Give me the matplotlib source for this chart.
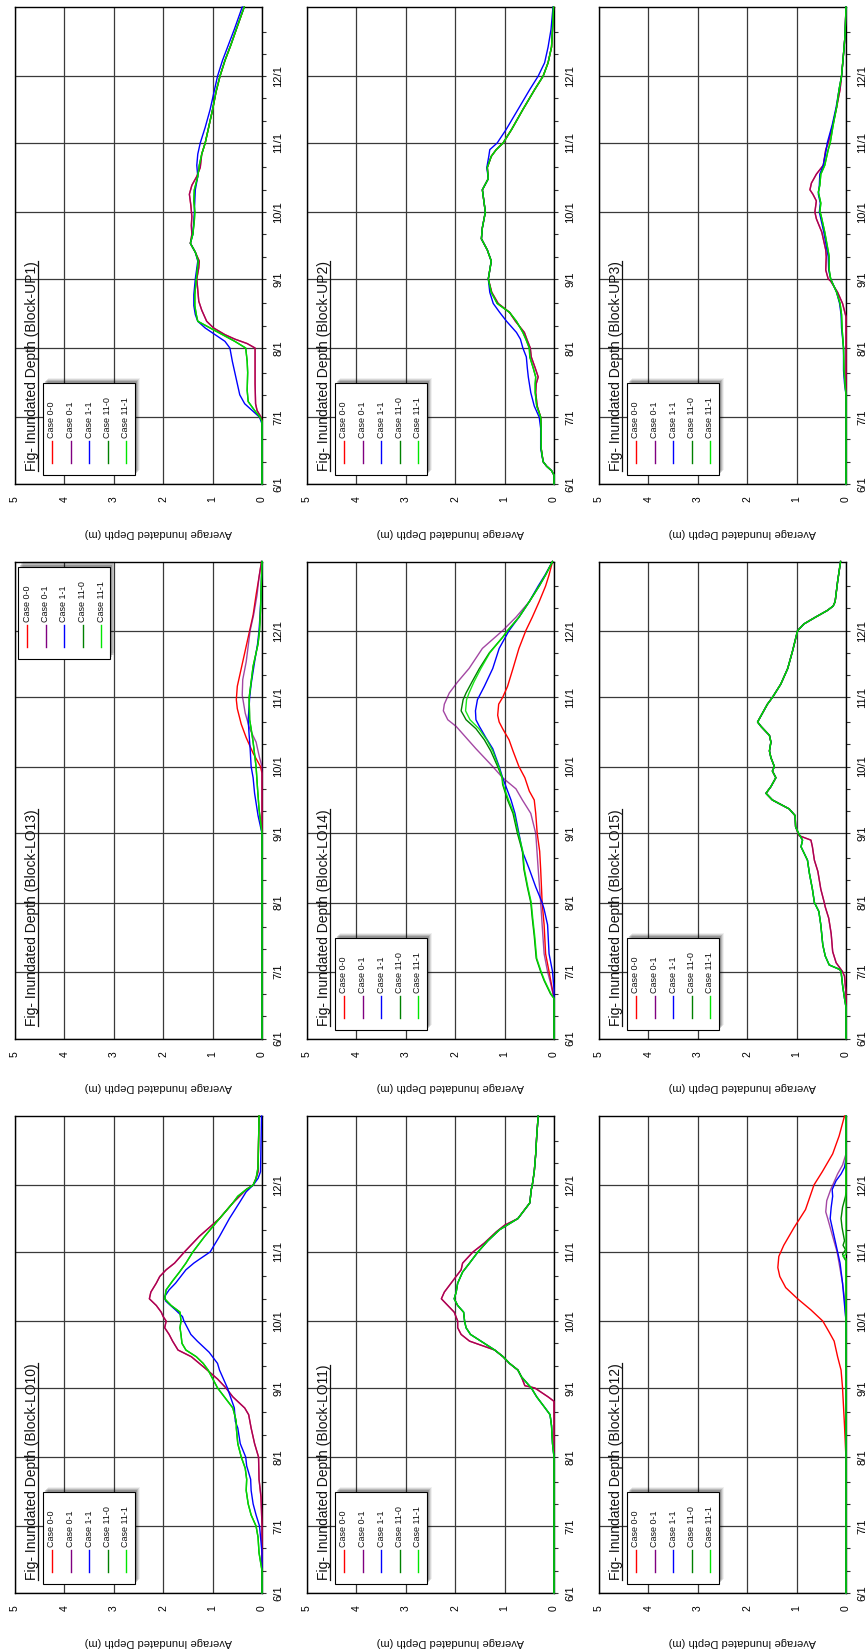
import numpy as np
import matplotlib
matplotlib.use("Agg")
import matplotlib.pyplot as plt
from matplotlib.patches import Rectangle
from matplotlib.lines import Line2D

plt.rcParams["font.family"] = ["Liberation Sans", "DejaVu Sans"]

# ---------------------------------------------------------------------------
# Axis definitions (time axis counted in days after 6/1)
# ---------------------------------------------------------------------------
MONTH_DAYS = [0, 30, 61, 92, 122, 153, 183]
MONTH_LABELS = ["6/1", "7/1", "8/1", "9/1", "10/1", "11/1", "12/1"]
DAY_MAX = 214
DEPTH_TICKS = [0, 1, 2, 3, 4, 5]
DEPTH_MAX = 5

CASES = ["Case 0-0", "Case 0-1", "Case 1-1", "Case 11-0", "Case 11-1"]
CASE_COLORS = ["#ff0000", "#800080", "#0000ff", "#008000", "#00e600"]

# ---------------------------------------------------------------------------
# Average inundated depth (m): (day after 6/1, depth)
# ---------------------------------------------------------------------------
UP1_CASE0 = [(0, 0), (28, 0), (30, 0.02), (33, 0.10), (36, 0.13), (45, 0.14), (61, 0.14),
             (63, 0.30), (65, 0.55), (67, 0.75), (70, 0.98), (73, 1.12), (76, 1.18), (78, 1.22),
             (82, 1.28), (87, 1.30), (92, 1.32), (97, 1.28), (100, 1.27), (104, 1.35), (108, 1.45),
             (112, 1.42), (116, 1.43), (120, 1.42), (125, 1.44), (130, 1.47), (134, 1.42),
             (138, 1.32), (142, 1.25), (148, 1.22), (153, 1.15), (160, 1.08), (168, 1.00),
             (176, 0.93), (183, 0.85), (190, 0.75), (197, 0.63), (204, 0.52), (214, 0.36)]
UP1_CASE11 = [(0, 0), (27, 0), (30, 0.05), (33, 0.20), (36, 0.35), (40, 0.45), (45, 0.50),
              (50, 0.55), (55, 0.60), (61, 0.65), (64, 0.75), (67, 0.95), (70, 1.15), (73, 1.30),
              (76, 1.35), (80, 1.38), (85, 1.38), (92, 1.35), (100, 1.30), (104, 1.35), (108, 1.45),
              (112, 1.40), (118, 1.38), (122, 1.37), (127, 1.36), (132, 1.35), (138, 1.30),
              (143, 1.32), (148, 1.30), (153, 1.25), (160, 1.15), (168, 1.05), (176, 0.97),
              (183, 0.90), (190, 0.80), (197, 0.68), (204, 0.56), (214, 0.40)]
UP1_CASE110 = [(0, 0), (28, 0), (30, 0.04), (33, 0.15), (37, 0.28), (42, 0.30), (50, 0.29),
               (55, 0.30), (61, 0.33), (64, 0.55), (67, 0.80), (70, 1.05), (73, 1.30), (76, 1.33),
               (80, 1.36), (85, 1.36), (92, 1.33), (100, 1.29), (104, 1.35), (108, 1.45), (112, 1.40),
               (118, 1.37), (122, 1.36), (127, 1.38), (132, 1.37), (138, 1.30), (143, 1.27),
               (148, 1.22), (153, 1.15), (160, 1.08), (168, 1.00), (176, 0.93), (183, 0.85),
               (190, 0.75), (197, 0.63), (204, 0.52), (214, 0.36)]

UP2_CASE0 = [(0, 0), (4, 0), (6, 0.05), (8, 0.15), (10, 0.22), (16, 0.26), (25, 0.26), (30, 0.27),
             (35, 0.34), (41, 0.37), (45, 0.36), (48, 0.32), (52, 0.38), (57, 0.46), (61, 0.48),
             (65, 0.55), (68, 0.60), (73, 0.78), (77, 0.90), (81, 1.13), (86, 1.26), (92, 1.33),
             (96, 1.30), (100, 1.27), (105, 1.35), (110, 1.47), (115, 1.45), (122, 1.39),
             (127, 1.42), (132, 1.45), (137, 1.33), (142, 1.35), (147, 1.27), (150, 1.17),
             (153, 1.03), (159, 0.86), (168, 0.63), (177, 0.39), (183, 0.22), (189, 0.12),
             (196, 0.05), (204, 0.03), (214, 0.01)]
UP2_CASE11 = [(0, 0), (4, 0), (6, 0.05), (8, 0.15), (10, 0.22), (16, 0.27), (25, 0.27), (30, 0.30),
              (35, 0.40), (41, 0.47), (48, 0.52), (52, 0.54), (57, 0.56), (61, 0.63), (65, 0.68),
              (68, 0.76), (73, 0.96), (77, 1.10), (81, 1.23), (86, 1.30), (92, 1.33), (96, 1.30),
              (100, 1.27), (105, 1.35), (110, 1.47), (115, 1.45), (122, 1.39), (127, 1.42),
              (132, 1.45), (137, 1.33), (142, 1.36), (147, 1.32), (150, 1.30), (153, 1.15),
              (159, 0.97), (168, 0.73), (177, 0.49), (183, 0.32), (189, 0.19), (196, 0.12),
              (204, 0.06), (214, 0.02)]
UP2_CASE110 = [(0, 0), (4, 0), (6, 0.05), (8, 0.15), (10, 0.22), (16, 0.26), (25, 0.26), (30, 0.27),
               (35, 0.35), (41, 0.38), (45, 0.38), (48, 0.37), (52, 0.42), (57, 0.49), (61, 0.50),
               (65, 0.57), (68, 0.63), (73, 0.76), (77, 0.90), (81, 1.15), (86, 1.27), (92, 1.33),
               (96, 1.30), (100, 1.27), (105, 1.35), (110, 1.47), (115, 1.45), (122, 1.39),
               (127, 1.42), (132, 1.45), (137, 1.33), (142, 1.35), (147, 1.27), (150, 1.17),
               (153, 1.03), (159, 0.86), (168, 0.63), (177, 0.39), (183, 0.22), (189, 0.12),
               (196, 0.05), (204, 0.03), (214, 0.01)]

UP3_CASE0 = [(0, 0), (75, 0), (81, 0.07), (86, 0.17), (91, 0.31), (92, 0.36), (96, 0.41),
             (102, 0.40), (105, 0.41), (113, 0.49), (119, 0.60), (122, 0.63), (127, 0.60),
             (130, 0.67), (132, 0.73), (135, 0.70), (139, 0.60), (143, 0.46), (150, 0.41),
             (153, 0.36), (161, 0.27), (169, 0.19), (177, 0.12), (183, 0.09), (193, 0.05),
             (201, 0.02), (214, 0.0)]
UP3_CASE11 = [(0, 0), (40, 0), (45, 0.03), (51, 0.05), (61, 0.05), (70, 0.09), (76, 0.10),
              (81, 0.13), (86, 0.19), (91, 0.29), (92, 0.31), (96, 0.35), (102, 0.36), (113, 0.45),
              (121, 0.53), (122, 0.54), (126, 0.52), (130, 0.56), (134, 0.54), (139, 0.53),
              (143, 0.46), (150, 0.40), (153, 0.38), (161, 0.28), (169, 0.20), (177, 0.14),
              (183, 0.09), (193, 0.05), (201, 0.02), (214, 0.0)]
UP3_CASE110 = [(0, 0), (40, 0), (45, 0.02), (51, 0.04), (61, 0.05), (70, 0.08), (76, 0.09),
               (81, 0.12), (86, 0.19), (91, 0.29), (92, 0.31), (96, 0.34), (102, 0.34), (113, 0.43),
               (121, 0.51), (122, 0.53), (126, 0.51), (131, 0.56), (134, 0.53), (139, 0.51),
               (143, 0.43), (150, 0.36), (153, 0.32), (161, 0.26), (169, 0.19), (177, 0.14),
               (183, 0.09), (193, 0.05), (201, 0.02), (214, 0.0)]

LO13_CASE00 = [(0, 0), (119, 0), (122, 0.03), (128, 0.18), (135, 0.32), (141, 0.42), (148, 0.50),
               (152, 0.52), (158, 0.50), (163, 0.45), (169, 0.39), (176, 0.32), (183, 0.25),
               (190, 0.18), (199, 0.12), (207, 0.06), (214, 0.01)]
LO13_CASE01 = [(0, 0), (122, 0), (126, 0.05), (133, 0.12), (139, 0.25), (146, 0.34), (154, 0.40),
               (161, 0.39), (169, 0.32), (176, 0.28), (183, 0.24), (190, 0.17), (199, 0.10),
               (207, 0.06), (214, 0.01)]
LO13_CASE11 = [(0, 0), (92, 0), (100, 0.08), (110, 0.15), (117, 0.18), (122, 0.22), (130, 0.24),
               (136, 0.26), (143, 0.28), (149, 0.26), (153, 0.25), (159, 0.22), (169, 0.15),
               (177, 0.09), (183, 0.06), (190, 0.04), (199, 0.02), (214, 0.0)]
LO13_CASE110 = [(0, 0), (92, 0), (103, 0.06), (112, 0.09), (122, 0.12), (133, 0.18), (139, 0.22),
                (143, 0.25), (153, 0.26), (160, 0.22), (167, 0.18), (177, 0.08), (183, 0.05),
                (192, 0.03), (214, 0.0)]

LO14_CASE00 = [(0, 0), (18, 0), (24, 0.05), (30, 0.10), (38, 0.17), (51, 0.20), (61, 0.24),
               (76, 0.27), (84, 0.29), (92, 0.34), (101, 0.37), (107, 0.40), (111, 0.50),
               (117, 0.59), (122, 0.71), (129, 0.83), (134, 0.91), (139, 1.04), (142, 1.11),
               (145, 1.14), (150, 1.12), (153, 1.04), (158, 0.94), (166, 0.83), (175, 0.71),
               (183, 0.57), (189, 0.44), (196, 0.30), (203, 0.17), (208, 0.10), (214, 0.03)]
LO14_CASE01 = [(0, 0), (18, 0), (24, 0.06), (30, 0.13), (38, 0.20), (51, 0.24), (61, 0.27),
               (76, 0.32), (89, 0.36), (92, 0.37), (101, 0.47), (107, 0.64), (112, 0.77),
               (117, 1.04), (122, 1.24), (130, 1.58), (135, 1.78), (140, 1.98), (143, 2.15),
               (147, 2.24), (150, 2.22), (155, 2.12), (160, 1.95), (166, 1.72), (175, 1.45),
               (183, 1.04), (189, 0.77), (196, 0.50), (203, 0.30), (208, 0.17), (214, 0.03)]
LO14_CASE11 = [(0, 0), (22, 0), (30, 0.03), (38, 0.10), (51, 0.13), (58, 0.20), (61, 0.24),
               (68, 0.37), (76, 0.50), (84, 0.64), (92, 0.71), (101, 0.79), (107, 0.87),
               (117, 1.04), (122, 1.11), (130, 1.24), (135, 1.38), (140, 1.51), (143, 1.58),
               (147, 1.59), (152, 1.55), (158, 1.41), (166, 1.24), (175, 1.11), (183, 0.91),
               (189, 0.71), (196, 0.50), (203, 0.32), (208, 0.18), (214, 0.03)]
LO14_CASE110 = [(0, 0), (18, 0), (20, 0.07), (26, 0.20), (30, 0.27), (36, 0.36), (46, 0.40),
                (54, 0.44), (61, 0.47), (68, 0.54), (76, 0.61), (84, 0.64), (92, 0.74),
                (101, 0.83), (107, 0.94), (114, 1.04), (117, 1.05), (122, 1.14), (129, 1.28),
                (134, 1.41), (139, 1.58), (143, 1.78), (147, 1.88), (152, 1.84), (155, 1.78),
                (160, 1.66), (166, 1.51), (173, 1.31), (180, 1.04), (183, 0.94), (189, 0.71),
                (196, 0.50), (203, 0.30), (208, 0.17), (214, 0.03)]
LO14_CASE111 = [(0, 0), (18, 0), (20, 0.06), (26, 0.19), (30, 0.26), (36, 0.35), (46, 0.39),
                (54, 0.43), (61, 0.46), (68, 0.53), (76, 0.60), (84, 0.63), (92, 0.72),
                (101, 0.81), (107, 0.92), (114, 1.03), (117, 1.05), (122, 1.12), (129, 1.24),
                (134, 1.36), (139, 1.52), (143, 1.70), (147, 1.79), (152, 1.77), (155, 1.72),
                (160, 1.62), (166, 1.48), (173, 1.30), (180, 1.04), (183, 0.94), (189, 0.71),
                (196, 0.50), (203, 0.30), (208, 0.17), (214, 0.03)]

LO15_CASE0 = [(0, 0), (20, 0), (28, 0.03), (30, 0.07), (34, 0.20), (39, 0.27), (47, 0.30),
              (54, 0.35), (59, 0.42), (61, 0.44), (67, 0.51), (75, 0.57), (80, 0.64), (86, 0.68),
              (89, 0.71), (91, 0.95), (92, 0.97), (95, 1.02), (100, 1.03), (103, 1.15),
              (107, 1.49), (110, 1.62), (113, 1.52), (117, 1.42), (120, 1.49), (122, 1.45),
              (126, 1.52), (129, 1.55), (133, 1.52), (136, 1.55), (140, 1.72), (142, 1.79),
              (146, 1.69), (150, 1.59), (153, 1.49), (159, 1.32), (166, 1.18), (174, 1.08),
              (183, 0.98), (186, 0.85), (189, 0.62), (192, 0.38), (194, 0.26), (196, 0.22),
              (205, 0.17), (214, 0.11)]
LO15_CASE1 = [(0, 0), (14, 0), (18, 0.03), (24, 0.07), (30, 0.10), (31, 0.13), (33, 0.34),
              (37, 0.42), (42, 0.47), (51, 0.51), (57, 0.55), (61, 0.64), (67, 0.68), (74, 0.74),
              (80, 0.78), (86, 0.91), (89, 0.88), (92, 0.96), (95, 1.02), (100, 1.03),
              (103, 1.15), (107, 1.49), (110, 1.62), (113, 1.52), (117, 1.42), (120, 1.49),
              (122, 1.45), (126, 1.52), (129, 1.55), (133, 1.52), (136, 1.55), (140, 1.72),
              (142, 1.79), (146, 1.69), (150, 1.59), (153, 1.49), (159, 1.32), (166, 1.18),
              (174, 1.08), (183, 0.98), (186, 0.85), (189, 0.62), (192, 0.38), (194, 0.26),
              (196, 0.22), (205, 0.17), (214, 0.11)]

LO10_CASE0 = [(0, 0), (30, 0), (43, 0.02), (51, 0.06), (61, 0.07), (67, 0.15), (74, 0.22),
              (80, 0.27), (83, 0.35), (88, 0.59), (92, 0.73), (96, 0.90), (101, 1.16), (106, 1.43),
              (109, 1.70), (113, 1.81), (116, 1.88), (119, 1.97), (122, 1.94), (124, 2.00),
              (126, 2.04), (129, 2.14), (132, 2.28), (135, 2.25), (139, 2.14), (142, 2.07),
              (145, 1.94), (148, 1.77), (153, 1.57), (160, 1.27), (168, 0.86), (175, 0.59),
              (181, 0.32), (183, 0.18), (186, 0.12), (189, 0.08), (214, 0.06)]
LO10_CASE11 = [(0, 0), (18, 0), (30, 0.05), (35, 0.12), (40, 0.18), (46, 0.22), (51, 0.23),
               (57, 0.31), (61, 0.33), (67, 0.44), (74, 0.49), (77, 0.54), (83, 0.56), (90, 0.67),
               (92, 0.70), (100, 0.86), (103, 0.90), (108, 1.07), (113, 1.31), (116, 1.44),
               (119, 1.51), (122, 1.58), (124, 1.61), (127, 1.75), (131, 1.95), (133, 1.97),
               (136, 1.88), (139, 1.75), (145, 1.54), (148, 1.38), (150, 1.25), (153, 1.05),
               (160, 0.86), (168, 0.66), (175, 0.46), (180, 0.32), (183, 0.18), (186, 0.08),
               (189, 0.03), (214, 0.01)]
LO10_CASE110 = [(0, 0), (10, 0), (18, 0.06), (25, 0.08), (30, 0.12), (35, 0.22), (40, 0.28),
                (46, 0.32), (51, 0.31), (56, 0.34), (61, 0.42), (67, 0.49), (74, 0.52), (77, 0.52),
                (83, 0.59), (92, 0.90), (100, 1.09), (103, 1.19), (106, 1.33), (109, 1.54),
                (112, 1.62), (116, 1.64), (119, 1.66), (122, 1.64), (126, 1.66), (129, 1.84),
                (132, 1.97), (136, 1.94), (140, 1.81), (144, 1.67), (148, 1.54), (153, 1.40),
                (160, 1.16), (168, 0.86), (175, 0.59), (178, 0.49), (181, 0.32), (183, 0.18),
                (186, 0.12), (191, 0.08), (214, 0.06)]

LO11_CASE0 = [(0, 0), (86, 0), (88, 0.12), (92, 0.39), (93, 0.59), (97, 0.66), (100, 0.73),
              (103, 0.90), (106, 1.03), (109, 1.20), (113, 1.71), (116, 1.88), (119, 1.95),
              (122, 1.95), (126, 2.02), (129, 2.15), (132, 2.28), (135, 2.22), (140, 2.05),
              (145, 1.88), (148, 1.85), (153, 1.64), (157, 1.41), (162, 1.17), (165, 1.00),
              (168, 0.73), (175, 0.49), (181, 0.46), (183, 0.44), (189, 0.40), (197, 0.37),
              (205, 0.35), (214, 0.32)]
LO11_CASE1 = [(0, 0), (61, 0), (67, 0.03), (75, 0.05), (80, 0.08), (83, 0.18), (88, 0.35),
              (92, 0.46), (97, 0.66), (100, 0.73), (103, 0.90), (106, 1.03), (109, 1.20),
              (113, 1.48), (116, 1.69), (119, 1.78), (122, 1.81), (126, 1.83), (129, 1.95),
              (132, 2.02), (135, 1.98), (139, 1.95), (144, 1.85), (148, 1.71), (153, 1.54),
              (158, 1.34), (163, 1.10), (168, 0.73), (175, 0.49), (181, 0.46), (183, 0.44),
              (189, 0.40), (197, 0.37), (205, 0.35), (214, 0.32)]

LO12_CASE00 = [(0, 0), (60, 0), (75, 0.03), (92, 0.07), (100, 0.10), (106, 0.17), (113, 0.24),
               (117, 0.34), (122, 0.47), (127, 0.71), (132, 0.98), (137, 1.22), (142, 1.34),
               (146, 1.38), (151, 1.36), (156, 1.26), (164, 1.05), (172, 0.82), (181, 0.68),
               (183, 0.65), (189, 0.48), (197, 0.27), (205, 0.14), (214, 0.03)]
LO12_CASE01 = [(0, 0), (122, 0), (132, 0.03), (139, 0.07), (148, 0.14), (153, 0.18), (160, 0.27),
               (168, 0.37), (171, 0.41), (176, 0.39), (181, 0.31), (183, 0.27), (188, 0.17),
               (192, 0.07), (197, 0.0), (214, 0)]
LO12_CASE11 = [(0, 0), (122, 0), (139, 0.07), (148, 0.12), (153, 0.17), (160, 0.24), (168, 0.32),
               (173, 0.30), (178, 0.27), (181, 0.28), (185, 0.20), (188, 0.10), (191, 0.03),
               (195, 0), (214, 0)]
LO12_CASE110 = [(0, 0), (149, 0), (150, 0.03), (152, 0.07), (154, 0.01), (156, 0.06), (158, 0.03),
                (164, 0.08), (168, 0.10), (173, 0.07), (178, 0.01), (180, 0), (214, 0)]
LO12_CASE111 = [(0, 0), (150, 0), (151, 0.06), (152, 0.0), (214, 0)]

# block name, grid row, grid column, series in CASES order
PANELS = [
    ("UP1", 0, 0, (UP1_CASE0, UP1_CASE0, UP1_CASE11, UP1_CASE110, UP1_CASE110)),
    ("UP2", 0, 1, (UP2_CASE0, UP2_CASE0, UP2_CASE11, UP2_CASE110, UP2_CASE110)),
    ("UP3", 0, 2, (UP3_CASE0, UP3_CASE0, UP3_CASE11, UP3_CASE110, UP3_CASE110)),
    ("LO13", 1, 0, (LO13_CASE00, LO13_CASE01, LO13_CASE11, LO13_CASE110, LO13_CASE110)),
    ("LO14", 1, 1, (LO14_CASE00, LO14_CASE01, LO14_CASE11, LO14_CASE110, LO14_CASE111)),
    ("LO15", 1, 2, (LO15_CASE0, LO15_CASE0, LO15_CASE1, LO15_CASE1, LO15_CASE1)),
    ("LO10", 2, 0, (LO10_CASE0, LO10_CASE0, LO10_CASE11, LO10_CASE110, LO10_CASE110)),
    ("LO11", 2, 1, (LO11_CASE0, LO11_CASE0, LO11_CASE1, LO11_CASE1, LO11_CASE1)),
    ("LO12", 2, 2, (LO12_CASE00, LO12_CASE01, LO12_CASE11, LO12_CASE110, LO12_CASE111)),
]
LEGEND_AT_TOP = {"LO13"}

# ---------------------------------------------------------------------------
# Page layout in pixels (y measured downward from the top of the page)
# ---------------------------------------------------------------------------
W, H, DPI = 865, 1650, 100
COL_LEFT = [15, 307, 599]
ROW_BOTTOM = [484, 1038.5, 1593]
FRAME_W, FRAME_H = 247, 477


def fx(x):
    return x / W


def fy(y):
    return 1.0 - y / H


fig = plt.figure(figsize=(W / DPI, H / DPI), dpi=DPI)
fig.patch.set_facecolor("white")

minor_days = [d + k for d in MONTH_DAYS for k in (10, 20)]
titles = []

for name, row, col, series in PANELS:
    left = COL_LEFT[col]
    bottom = ROW_BOTTOM[row]
    top = bottom - FRAME_H
    ax = fig.add_axes([fx(left), fy(bottom), FRAME_W / W, FRAME_H / H])
    ax.set_xlim(DEPTH_MAX, 0)
    ax.set_ylim(0, DAY_MAX)

    # depth axis (horizontal, increasing to the left)
    ax.set_xticks(DEPTH_TICKS)
    ax.set_xticklabels([str(v) for v in DEPTH_TICKS], rotation=90, fontsize=7.5)
    ax.tick_params(axis="x", length=0, pad=9)

    # date axis (vertical, labels on the right)
    ax.yaxis.tick_right()
    ax.set_yticks(MONTH_DAYS)
    ax.set_yticklabels(MONTH_LABELS, rotation=90, va="center", fontsize=8)
    ax.set_yticks(minor_days, minor=True)
    ax.tick_params(axis="y", which="both", direction="out", length=3, width=0.8, pad=5,
                   color="#333333")

    ax.grid(True, which="major", color="#3a3a3a", lw=0.9)
    ax.set_axisbelow(True)
    for sp in ax.spines.values():
        sp.set_color("black")
        sp.set_linewidth(1.0)

    for k, pts in enumerate(series):
        arr = np.asarray(pts, dtype=float)
        alpha = 0.72 if k == 1 else (0.9 if k == 4 else 1.0)
        ax.plot(arr[:, 1], arr[:, 0], color=CASE_COLORS[k], lw=1.0, alpha=alpha,
                solid_joinstyle="round", clip_on=False, zorder=3 + k)

    # depth axis title (upside down)
    fig.text(fx(left + 143), fy(bottom + 49), "Average Inundated Depth (m)", rotation=180,
             ha="center", va="center", fontsize=8, color="#111111")

    # panel caption running along the left edge
    t = fig.text(fx(left + 17), fy(bottom - 13), f"Fig- Inundated Depth (Block-{name})",
                 rotation=90, rotation_mode="anchor", ha="left", va="center", fontsize=10,
                 color="#111111")
    titles.append((t, left))

    # legend box with a soft drop shadow
    if name in LEGEND_AT_TOP:
        bx0, by_bottom = left + 3, top + 97
    else:
        bx0, by_bottom = left + 28, bottom - 9
    bw, bh = 92, 92
    for off, a in ((5, 0.06), (4, 0.10), (3, 0.14), (2, 0.18)):
        fig.patches.append(Rectangle((fx(bx0 + off), fy(by_bottom - off)), bw / W, bh / H,
                                     transform=fig.transFigure, facecolor="#000000",
                                     edgecolor="none", alpha=a, zorder=5))
    fig.patches.append(Rectangle((fx(bx0), fy(by_bottom)), bw / W, bh / H,
                                 transform=fig.transFigure, facecolor="white",
                                 edgecolor="black", lw=0.8, zorder=6))
    for k, (label, color) in enumerate(zip(CASES, CASE_COLORS)):
        ex = bx0 + 9 + k * 18.5
        fig.lines.append(Line2D([fx(ex), fx(ex)], [fy(by_bottom - 12), fy(by_bottom - 34)],
                                transform=fig.transFigure, color=color, lw=1.0, zorder=7))
        fig.text(fx(ex), fy(by_bottom - 37), label, rotation=90, rotation_mode="anchor",
                 ha="left", va="center", fontsize=6.5, color="#111111", zorder=7)

# underline each caption
fig.canvas.draw()
renderer = fig.canvas.get_renderer()
for t, left in titles:
    bb = t.get_window_extent(renderer)
    ux = fx(left + 22.5)
    fig.lines.append(Line2D([ux, ux], [bb.y0 / H, bb.y1 / H], transform=fig.transFigure,
                            color="#111111", lw=0.9, zorder=7))

fig.savefig("out.png", dpi=DPI, facecolor="white")
